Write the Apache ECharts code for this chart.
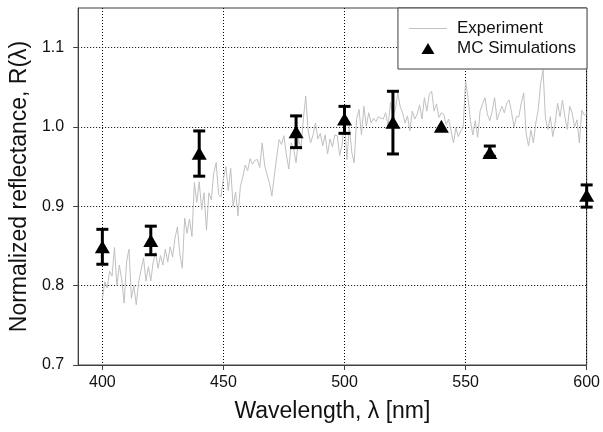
<!DOCTYPE html>
<html><head><meta charset="utf-8">
<script src="https://cdn.jsdelivr.net/npm/echarts@6/dist/echarts.min.js"></script>
<style>html,body{margin:0;padding:0;background:#fff}#c{width:603px;height:432px}</style>
</head><body><div id="c"></div>
<script>
// Experiment: reflectance sampled every 1 nm starting at 400 nm
const expStartNm = 400;
const expStepNm = 1;
const expReflectance = [
  0.783,0.805,0.797,0.818,0.812,0.848,0.800,0.826,0.808,0.778,
  0.830,0.846,0.784,0.800,0.776,0.805,0.820,0.835,0.806,0.824,
  0.806,0.830,0.842,0.822,0.838,0.826,0.846,0.830,0.849,0.836,
  0.860,0.874,0.840,0.822,0.885,0.866,0.884,0.862,0.930,0.905,
  0.931,0.896,0.917,0.870,0.917,0.908,0.942,0.955,0.915,0.912,
  0.935,0.950,0.920,0.948,0.900,0.918,0.888,0.925,0.937,0.952,
  0.945,0.960,0.953,0.958,0.959,0.949,0.980,0.952,0.940,0.930,
  0.913,0.938,0.962,0.984,0.978,0.989,0.965,0.947,0.980,0.972,
  0.955,0.985,0.972,1.010,1.039,0.995,0.980,0.990,1.005,0.985,
  0.992,0.976,0.990,0.966,0.985,0.975,0.990,0.989,0.964,0.978,
  1.009,0.959,1.001,0.968,0.955,1.010,1.022,0.990,1.026,1.001,
  1.018,1.005,1.011,1.007,1.013,1.011,1.010,1.018,1.001,1.031,
  1.016,1.022,1.043,1.026,1.018,1.005,1.014,0.995,1.020,1.010,
  1.016,1.028,1.010,1.037,1.020,1.041,1.045,1.020,1.029,1.012,
  1.018,1.016,1.003,1.010,0.995,0.980,0.999,0.988,0.995,1.000,
  1.058,1.037,1.008,0.990,1.008,0.987,1.020,1.029,1.037,1.016,
  1.008,1.020,1.037,1.009,1.018,1.026,1.018,1.030,1.034,1.018,
  1.000,1.013,1.013,1.030,1.043,0.992,0.976,0.996,0.980,1.005,
  1.022,1.055,1.072,1.010,0.997,1.013,0.988,1.005,1.030,1.013,
  1.034,1.013,0.997,1.026,1.018,1.000,1.009,0.980,1.021,1.015,
  1.017
];
// MC simulations
const mcWavelength = [400, 420, 440, 480, 500, 520, 540, 560, 600];
const mcMean       = [0.849, 0.857, 0.967, 0.994, 1.010, 1.006, 1.001, 0.968, 0.914];
const mcLow        = [0.827, 0.839, 0.938, 0.974, 0.992, 0.966, 1.001, 0.963, 0.899];
const mcHigh       = [0.871, 0.875, 0.995, 1.014, 1.026, 1.045, 1.001, 0.976, 0.927];
// Axis ticks
const xTickValues = [400, 450, 500, 550, 600];
const yTickValues = [0.7, 0.8, 0.9, 1.0, 1.1];
const xRange = [390, 600];
const yRange = [0.7, 1.15];

const expData = expReflectance.map((v, i) => [expStartNm + i * expStepNm, v]);
const mcData = mcWavelength.map((w, i) => [w, mcMean[i]]);
const errData = mcWavelength.map((w, i) => [w, mcLow[i], mcHigh[i]]);

const FONT = 'Liberation Sans, Arial, sans-serif';
const AXIS_COLOR = '#404040';
const TEXT_COLOR = '#111';

const chart = echarts.init(document.getElementById('c'), null, {renderer: 'canvas'});
chart.setOption({
  animation: false,
  backgroundColor: '#fff',
  grid: {
    left: 76, right: 16, top: 8, bottom: 67,
    show: true, borderColor: AXIS_COLOR, borderWidth: 1, backgroundColor: 'transparent'
  },
  legend: {
    orient: 'vertical',
    right: 16, top: 8,
    padding: [12, 11, 12, 11],
    itemGap: 3,
    itemWidth: 38, itemHeight: 11,
    backgroundColor: '#fff',
    borderColor: AXIS_COLOR, borderWidth: 1, borderRadius: 0,
    textStyle: {fontFamily: FONT, fontSize: 17, color: TEXT_COLOR, padding: [0, 0, 0, 5]},
    data: [
      {name: 'Experiment', icon: 'path://M0,-5.5 M0,5.5 M0,-0.5L38,-0.5L38,0.5L0,0.5Z'},
      {name: 'MC Simulations', icon: 'path://M-19,-5.5 M19,5.5 M0,-5.5L6.5,5.5L-6.5,5.5Z'}
    ]
  },
  xAxis: {
    type: 'value', min: xRange[0], max: xRange[1],
    name: 'Wavelength, λ [nm]', nameLocation: 'middle', nameGap: 35,
    nameTextStyle: {fontFamily: FONT, fontSize: 23, color: TEXT_COLOR},
    axisLine: {show: true, onZero: false, lineStyle: {color: AXIS_COLOR, width: 1}},
    axisTick: {show: true, length: 5, customValues: xTickValues, lineStyle: {color: AXIS_COLOR}},
    axisLabel: {customValues: xTickValues, margin: 10, fontFamily: FONT, fontSize: 16, color: TEXT_COLOR,
      showMinLabel: true, showMaxLabel: true},
    splitLine: {show: true, lineStyle: {color: '#000', type: [1, 2], width: 1}}
  },
  yAxis: {
    type: 'value', min: yRange[0], max: yRange[1],
    name: 'Normalized reflectance, R(λ)', nameLocation: 'middle', nameGap: 38,
    nameTextStyle: {fontFamily: FONT, fontSize: 23, color: TEXT_COLOR},
    axisLine: {show: true, onZero: false, lineStyle: {color: AXIS_COLOR, width: 1}},
    axisTick: {show: true, length: 5, customValues: yTickValues, lineStyle: {color: AXIS_COLOR}},
    axisLabel: {customValues: yTickValues, margin: 14, fontFamily: FONT, fontSize: 16, color: TEXT_COLOR,
      formatter: v => Number(v).toFixed(1)},
    splitLine: {show: true, lineStyle: {color: '#000', type: [1, 2], width: 1}}
  },
  series: [
    {
      name: 'Experiment', type: 'line', data: expData,
      symbol: 'none', color: '#c0c0c0',
      lineStyle: {color: '#c0c0c0', width: 1}, z: 2
    },
    {
      name: 'MC Simulations', type: 'custom', data: errData, z: 4, clip: false,
      renderItem: (params, api) => {
        const x = api.value(0), lo = api.value(1), hi = api.value(2);
        const pHi = api.coord([x, hi]);
        const pLo = api.coord([x, lo]);
        if (Math.abs(pLo[1] - pHi[1]) < 1) return {type: 'group', children: []};
        const hw = 6;
        const st = {stroke: '#000', lineWidth: 3};
        return {type: 'group', children: [
          {type: 'line', shape: {x1: pHi[0], y1: pHi[1], x2: pLo[0], y2: pLo[1]}, style: st},
          {type: 'line', shape: {x1: pHi[0] - hw, y1: pHi[1], x2: pHi[0] + hw, y2: pHi[1]}, style: st},
          {type: 'line', shape: {x1: pLo[0] - hw, y1: pLo[1], x2: pLo[0] + hw, y2: pLo[1]}, style: st}
        ]};
      },
      encode: {x: 0, y: [1, 2]},
      itemStyle: {color: '#000'}
    },
    {
      name: 'MC Simulations', type: 'scatter', data: mcData, z: 5, clip: false,
      symbol: 'triangle', symbolSize: [15, 13],
      itemStyle: {color: '#000', opacity: 1}
    }
  ]
});
</script>
</body></html>
